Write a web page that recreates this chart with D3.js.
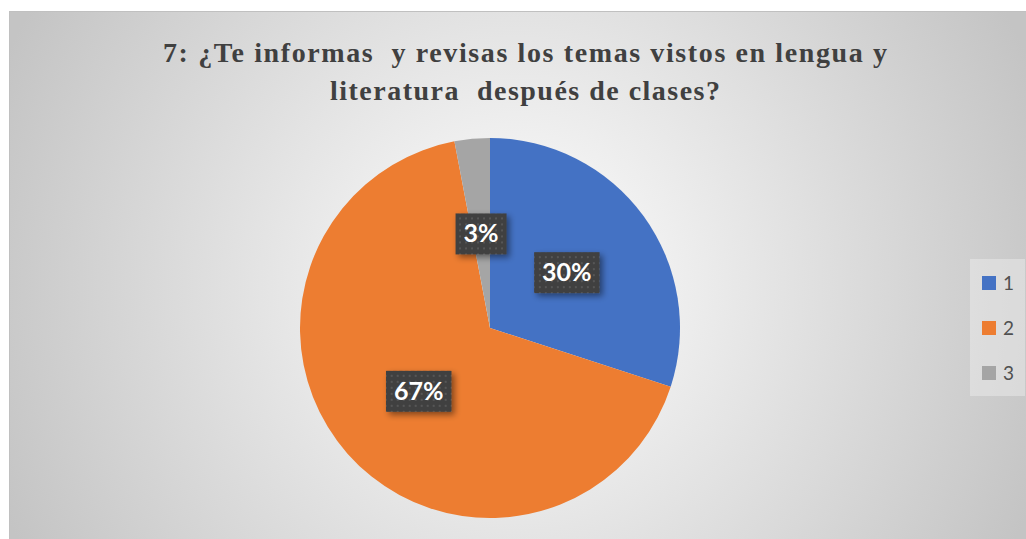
<!DOCTYPE html>
<html>
<head>
<meta charset="utf-8">
<script src="https://cdn.jsdelivr.net/npm/d3@7"></script>
<style>
  body { margin: 0; background: #fff; }
  svg { display: block; }
</style>
</head>
<body>
<svg id="chart" width="1026" height="539"></svg>
<script>
const categories = ["1", "2", "3"];
const values = [30, 67, 3];
const colors = ["#4472c4", "#ed7d31", "#a5a5a5"];
const titleLines = [
    "7: ¿Te informas  y revisas los temas vistos en lengua y",
    "literatura  después de clases?"
];
const titleWidths = [724, 390];

const svg = d3.select("#chart"),
      width = +svg.attr("width"),
      height = +svg.attr("height");

const defs = svg.append("defs");

const grad = defs.append("radialGradient")
    .attr("id", "bg")
    .attr("gradientUnits", "userSpaceOnUse")
    .attr("cx", 517).attr("cy", 285).attr("r", 560);
grad.append("stop").attr("offset", "0%").attr("stop-color", "#ffffff");
grad.append("stop").attr("offset", "100%").attr("stop-color", "#c4c4c4");

const pattern = defs.append("pattern")
    .attr("id", "dots")
    .attr("patternUnits", "userSpaceOnUse")
    .attr("width", 6).attr("height", 6);
pattern.append("rect").attr("width", 6).attr("height", 6).attr("fill", "#404040");
pattern.append("rect").attr("x", 2).attr("y", 2).attr("width", 2).attr("height", 2).attr("fill", "#565656");

const shadow = defs.append("filter").attr("id", "shadow")
    .attr("x", "-30%").attr("y", "-30%").attr("width", "170%").attr("height", "170%");
shadow.append("feDropShadow")
    .attr("dx", 3).attr("dy", 3).attr("stdDeviation", 3)
    .attr("flood-color", "#000").attr("flood-opacity", 0.45);

// chart area
svg.append("rect")
    .attr("x", 9.5).attr("y", 11.5)
    .attr("width", width - 9).attr("height", height - 11)
    .attr("fill", "url(#bg)")
    .attr("stroke", "#c0c0c0");

// title
const title = svg.append("text")
    .attr("text-anchor", "middle")
    .style("font-family", "'Liberation Serif', 'Times New Roman', serif")
    .style("font-weight", "bold")
    .style("font-size", "28px")
    .style("white-space", "pre")
    .attr("fill", "#404040");
titleLines.forEach((t, i) => {
    title.append("tspan")
        .attr("x", 525)
        .attr("y", 62 + i * 38)
        .attr("textLength", titleWidths[i])
        .attr("lengthAdjust", "spacing")
        .text(t);
});

// pie
const cx = 490, cy = 328, radius = 190;
const total = d3.sum(values);
const data = categories.map((c, i) => ({ cat: c, value: values[i], color: colors[i] }));

const pie = d3.pie().value(d => d.value).sort(null);
const arc = d3.arc().innerRadius(0).outerRadius(radius);
const arcs = pie(data);

const g = svg.append("g").attr("transform", `translate(${cx},${cy})`);

g.selectAll("path")
    .data(arcs)
    .join("path")
    .attr("d", arc)
    .attr("fill", d => d.data.color);

// data labels
const labels = g.selectAll(".lbl")
    .data(arcs)
    .join("g")
    .attr("class", "lbl")
    .attr("transform", d => `translate(${arc.centroid(d)})`);

labels.append("text")
    .attr("text-anchor", "middle")
    .attr("dy", "0.36em")
    .style("font-family", "Lato, 'Open Sans', sans-serif")
    .style("font-weight", "bold")
    .style("font-size", "25px")
    .attr("fill", "#ffffff")
    .text(d => Math.round(d.data.value / total * 100) + "%");

labels.each(function() {
    const grp = d3.select(this);
    const bb = grp.select("text").node().getBBox();
    grp.insert("rect", "text")
        .attr("x", -bb.width / 2 - 8)
        .attr("y", -20)
        .attr("width", bb.width + 16)
        .attr("height", 41)
        .attr("fill", "url(#dots)")
        .attr("filter", "url(#shadow)");
});

// legend
svg.append("rect")
    .attr("x", 970).attr("y", 259)
    .attr("width", 55).attr("height", 137)
    .attr("fill", "#f0f0f0").attr("opacity", 0.45);

const legend = svg.selectAll(".legend")
    .data(data)
    .join("g")
    .attr("class", "legend")
    .attr("transform", (d, i) => `translate(982,${276 + i * 45})`);

legend.append("rect")
    .attr("width", 14).attr("height", 14)
    .attr("fill", d => d.color);

legend.append("text")
    .attr("x", 21)
    .attr("y", 7)
    .attr("dy", "0.36em")
    .style("font-family", "Lato, 'Open Sans', sans-serif")
    .style("font-size", "19px")
    .attr("fill", "#505050")
    .text(d => d.cat);
</script>
</body>
</html>
